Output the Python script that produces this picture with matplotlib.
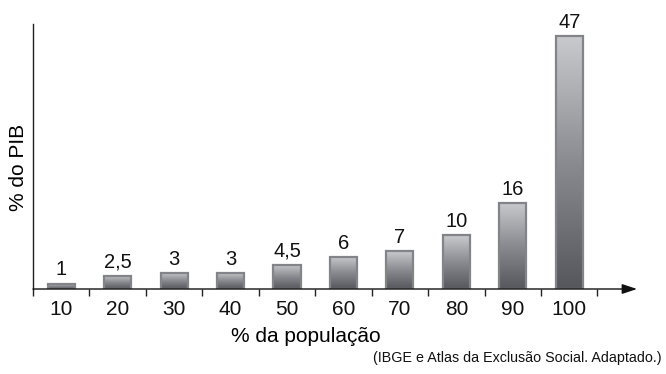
import numpy as np
import matplotlib
matplotlib.use("Agg")
import matplotlib.pyplot as plt
from matplotlib.colors import LinearSegmentedColormap

# Distribuição do PIB por faixa da população
populacao = ["10", "20", "30", "40", "50", "60", "70", "80", "90", "100"]
pib = [1, 2.5, 3, 3, 4.5, 6, 7, 10, 16, 47]
rotulos = ["1", "2,5", "3", "3", "4,5", "6", "7", "10", "16", "47"]

W, H, DPI = 666, 374, 100
fig = plt.figure(figsize=(W / DPI, H / DPI), dpi=DPI)
ax = fig.add_axes([33 / W, (H - 289) / H, (637 - 33) / W, (289 - 24) / H])

x = np.arange(len(populacao))

bars = ax.bar(x, pib, width=0.48, facecolor="none", edgecolor="#838489",
              linewidth=1.6, zorder=3)

grad = LinearSegmentedColormap.from_list("barra", ["#56575c", "#8a8b90", "#c9cacd"])
g = np.linspace(0, 1, 256).reshape(-1, 1)
for b in bars:
    x0, y0 = b.get_x(), b.get_y()
    w, h = b.get_width(), b.get_height()
    im = ax.imshow(g, cmap=grad, origin="lower", aspect="auto",
                   extent=(x0, x0 + w, y0, y0 + h), zorder=2, interpolation="bilinear")
    im.set_clip_path(b)

ax.set_xlim(-0.5, 10.2)
ax.set_ylim(0, 49.3)

lab_font = {"family": ["Liberation Sans", "DejaVu Sans"]}
for xi, v, t in zip(x, pib, rotulos):
    ax.annotate(t, (xi, v), xytext=(0, 3), textcoords="offset points",
                ha="center", va="bottom", fontsize=14.5, color="#111111", **lab_font)

# eixos
for s in ["top", "right", "bottom"]:
    ax.spines[s].set_visible(False)
ax.spines["left"].set_color("#222222")
ax.spines["left"].set_linewidth(1.0)

ax.annotate("", xy=(10.2, 0), xytext=(-0.5, 0), xycoords="data",
            arrowprops=dict(arrowstyle="-|>,head_length=0.9,head_width=0.3",
                            color="#111111", lw=1.0, shrinkA=0, shrinkB=0),
            annotation_clip=False, zorder=4)

ax.set_yticks([])
ax.set_xticks(x)
ax.set_xticklabels(populacao, fontsize=15, **lab_font)
ax.tick_params(axis="x", which="major", length=0, pad=8, colors="#111111")
ax.set_xticks(np.arange(-0.5, 10, 1.0), minor=True)
ax.tick_params(axis="x", which="minor", length=5, width=1.0, color="#222222",
               direction="out")

ax.set_ylabel("% do PIB", fontsize=15, **lab_font)
ax.yaxis.set_label_coords(-0.008, 0.457)
ax.text(4.34, -0.145, "% da população", transform=ax.get_xaxis_transform(),
        ha="center", va="top", fontsize=15, **lab_font)

fig.text(662 / W, 1 - 358 / H, "(IBGE e Atlas da Exclusão Social. Adaptado.)",
         ha="right", va="center", fontsize=10.3,
         family=["Liberation Sans", "DejaVu Sans"],
         color="#111111")

fig.savefig("out.png", dpi=DPI)
